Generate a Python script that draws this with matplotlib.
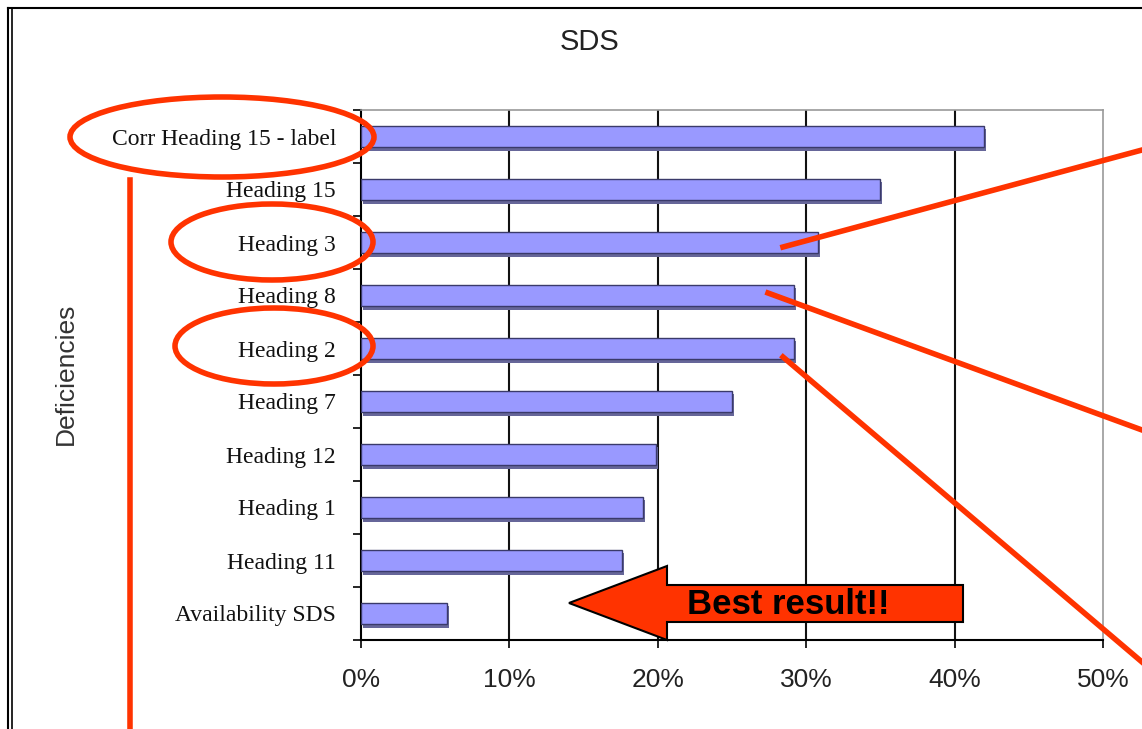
import numpy as np
import matplotlib.pyplot as plt
from matplotlib.patches import Ellipse, Polygon
from matplotlib.lines import Line2D
import matplotlib.patheffects as pe

categories = ["Corr Heading 15 - label", "Heading 15", "Heading 3", "Heading 8",
              "Heading 2", "Heading 7", "Heading 12", "Heading 1", "Heading 11",
              "Availability SDS"]
values = [42.0, 35.0, 30.8, 29.2, 29.2, 25.0, 19.9, 19.0, 17.6, 5.8]
xticks = [0, 10, 20, 30, 40, 50]
xtick_labels = ["0%", "10%", "20%", "30%", "40%", "50%"]

W, H = 1142, 729
RED = "#FF3300"

fig = plt.figure(figsize=(W / 100, H / 100), dpi=100)


def px(x, y):
    # pixel position (top-left origin) -> figure fraction
    return x / W, 1 - y / H


ax = fig.add_axes([361 / W, 89 / H, 742 / W, 530 / H])
y = np.arange(len(categories))
ax.barh(y, values, height=0.4, color="#9999FF", edgecolor="#3a3a6a", linewidth=1.0,
        zorder=3, path_effects=[pe.SimplePatchShadow(offset=(1.5, -2.5), shadow_rgbFace="#666699", alpha=1),
                                pe.Normal()])
ax.set_ylim(len(categories) - 0.5, -0.5)
ax.set_xlim(0, 50)
ax.set_yticks(y)
ax.set_yticklabels(categories, family="Liberation Serif", fontsize=17, color="#111111")
ax.set_yticks(np.arange(-0.5, len(categories), 1), minor=True)
ax.tick_params(axis="y", which="major", length=0, pad=18)
ax.tick_params(axis="y", which="minor", length=6, width=1.2, direction="out")
ax.set_xticks(xticks)
ax.set_xticklabels(xtick_labels, family="Liberation Sans", fontsize=19, color="#222222")
ax.tick_params(axis="x", length=6, width=1.2, pad=14)
for v in xticks[1:-1]:
    ax.axvline(v, color="#111111", linewidth=1.5, zorder=1)
for s in ["top", "right"]:
    ax.spines[s].set_color("#999999")
    ax.spines[s].set_linewidth(1.2)
for s in ["left", "bottom"]:
    ax.spines[s].set_color("black")
    ax.spines[s].set_linewidth(1.5)

fig.text(*px(590, 42), "SDS", ha="center", va="center", fontsize=21,
         family="Liberation Sans", color="#222222")
fig.text(*px(66, 374), "Deficiencies", ha="center", va="center", rotation=90,
         fontsize=19, family="Liberation Sans", color="#333333")

# frame of the slide
fig.add_artist(Line2D([8 / W, 1], [1 - 8 / H] * 2, color="black", lw=1.5, transform=fig.transFigure))
fig.add_artist(Line2D([8 / W] * 2, [0, 1 - 8 / H], color="black", lw=1.5, transform=fig.transFigure))
fig.add_artist(Line2D([12 / W] * 2, [0, 1 - 8 / H], color="black", lw=1.2, transform=fig.transFigure))

# red ellipses around labels
for cx, cy, w, h in [(222, 137, 304, 80), (272, 242, 202, 76), (274, 346, 198, 76)]:
    fig.add_artist(Ellipse(px(cx, cy), w / W, h / H, fill=False, edgecolor=RED,
                           linewidth=4, transform=fig.transFigure, zorder=10))

# red connector lines
for (x0, y0), (x1, y1) in [((130, 180), (130, 729)), ((783, 247), (1142, 150)),
                           ((768, 293), (1142, 430)), ((783, 357), (1142, 662))]:
    a, b = px(x0, y0), px(x1, y1)
    fig.add_artist(Line2D([a[0], b[0]], [a[1], b[1]], color=RED, lw=4,
                          transform=fig.transFigure, zorder=10))

# arrow "Best result!!"
arrow_px = [(569, 603), (667, 566), (667, 585), (963, 585), (963, 622),
            (667, 622), (667, 640)]
fig.add_artist(Polygon([px(x, yy) for x, yy in arrow_px], closed=True, facecolor=RED,
                       edgecolor="black", linewidth=1.5, transform=fig.transFigure, zorder=11))
fig.text(*px(788, 604), "Best result!!", ha="center", va="center", fontsize=25,
         fontweight="bold", family="Liberation Sans", color="black", zorder=12)

fig.savefig("out.png", dpi=100)
